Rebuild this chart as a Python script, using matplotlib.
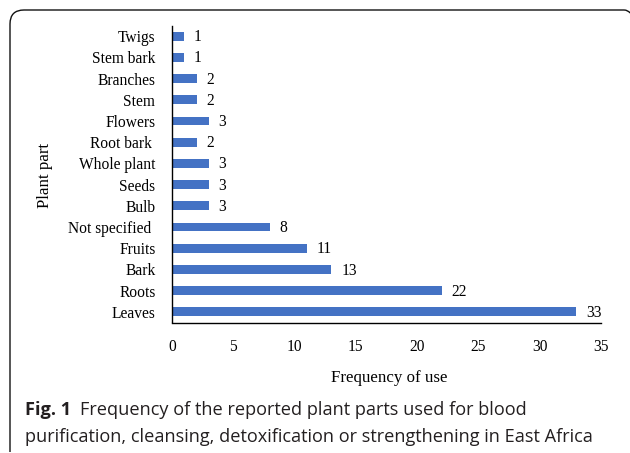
import matplotlib.pyplot as plt
from matplotlib.path import Path
from matplotlib.patches import PathPatch

# Data (bottom to top as drawn)
parts = ['Leaves', 'Roots', 'Bark', 'Fruits', 'Not specified ', 'Bulb', 'Seeds',
         'Whole plant', 'Root bark ', 'Flowers', 'Stem', 'Branches', 'Stem bark', 'Twigs']
freq = [33, 22, 13, 11, 8, 3, 3, 3, 2, 3, 2, 2, 1, 1]
xticks = [0, 5, 10, 15, 20, 25, 30, 35]

W, H = 630, 453
fig = plt.figure(figsize=(W / 100, H / 100), dpi=100)
ax = fig.add_axes([172 / W, 1 - 322.5 / H, (601 - 172) / W, (322.5 - 25.5) / H])

serif = 'Liberation Serif'
bar_color = '#4472C4'

ypos = list(range(len(parts)))
ax.barh(ypos, freq, height=0.42, color=bar_color)
for y, v in zip(ypos, freq):
    ax.text(v + 0.8, y - 0.05, str(v), ha='left', va='center', fontsize=11.2, family=serif)

ax.set_xlim(0, 35)
ax.set_ylim(-0.5, len(parts) - 0.5)
ax.set_yticks(ypos)
ax.set_yticklabels(parts, fontsize=11.2, family=serif)
ax.set_xticks(xticks)
ax.set_xticklabels([str(t) for t in xticks], fontsize=11.2, family=serif)
ax.tick_params(axis='both', length=0)
ax.tick_params(axis='y', pad=12)
ax.tick_params(axis='x', pad=12)
for s in ['top', 'right']:
    ax.spines[s].set_visible(False)
for s in ['left', 'bottom']:
    ax.spines[s].set_linewidth(1.0)
    ax.spines[s].set_color('black')

fig.text(389 / W, 1 - 378 / H, 'Frequency of use', ha='center', va='center',
         fontsize=12.2, family=serif)
fig.text(45 / W, 1 - 175 / H, 'Plant part', ha='center', va='center',
         rotation=90, fontsize=12.2, family=serif)

# Rounded frame (top-left corner rounded, open bottom)
r = 14
px = lambda x: x / W
py = lambda y: 1 - y / H
verts = [(px(10), py(452)), (px(10), py(10 + r)), (px(10), py(10)), (px(10 + r), py(10)),
         (px(624), py(10)), (px(628), py(10)), (px(630), py(13))]
codes = [Path.MOVETO, Path.LINETO, Path.CURVE3, Path.CURVE3, Path.LINETO, Path.CURVE3, Path.CURVE3]
frame = PathPatch(Path(verts, codes), transform=fig.transFigure, fill=False,
                  edgecolor='#111111', linewidth=1.0)
fig.patches.append(frame)

# Caption
cap = 'Open Sans'
cs = 13.1
t = fig.text(25 / W, 1 - 410 / H, 'Fig. 1', ha='left', va='center', fontsize=cs,
             family=cap, fontweight='bold', color='#231f20')
fig.canvas.draw()
bb = t.get_window_extent()
fig.text((bb.x1 + 9) / W, 1 - 410 / H, 'Frequency of the reported plant parts used for blood',
         ha='left', va='center', fontsize=cs, family=cap, color='#231f20')
fig.text(25 / W, 1 - 437 / H,
         'purification, cleansing, detoxification or strengthening in East Africa',
         ha='left', va='center', fontsize=cs, family=cap, color='#231f20')

fig.savefig('out.png', dpi=100, facecolor='white')
